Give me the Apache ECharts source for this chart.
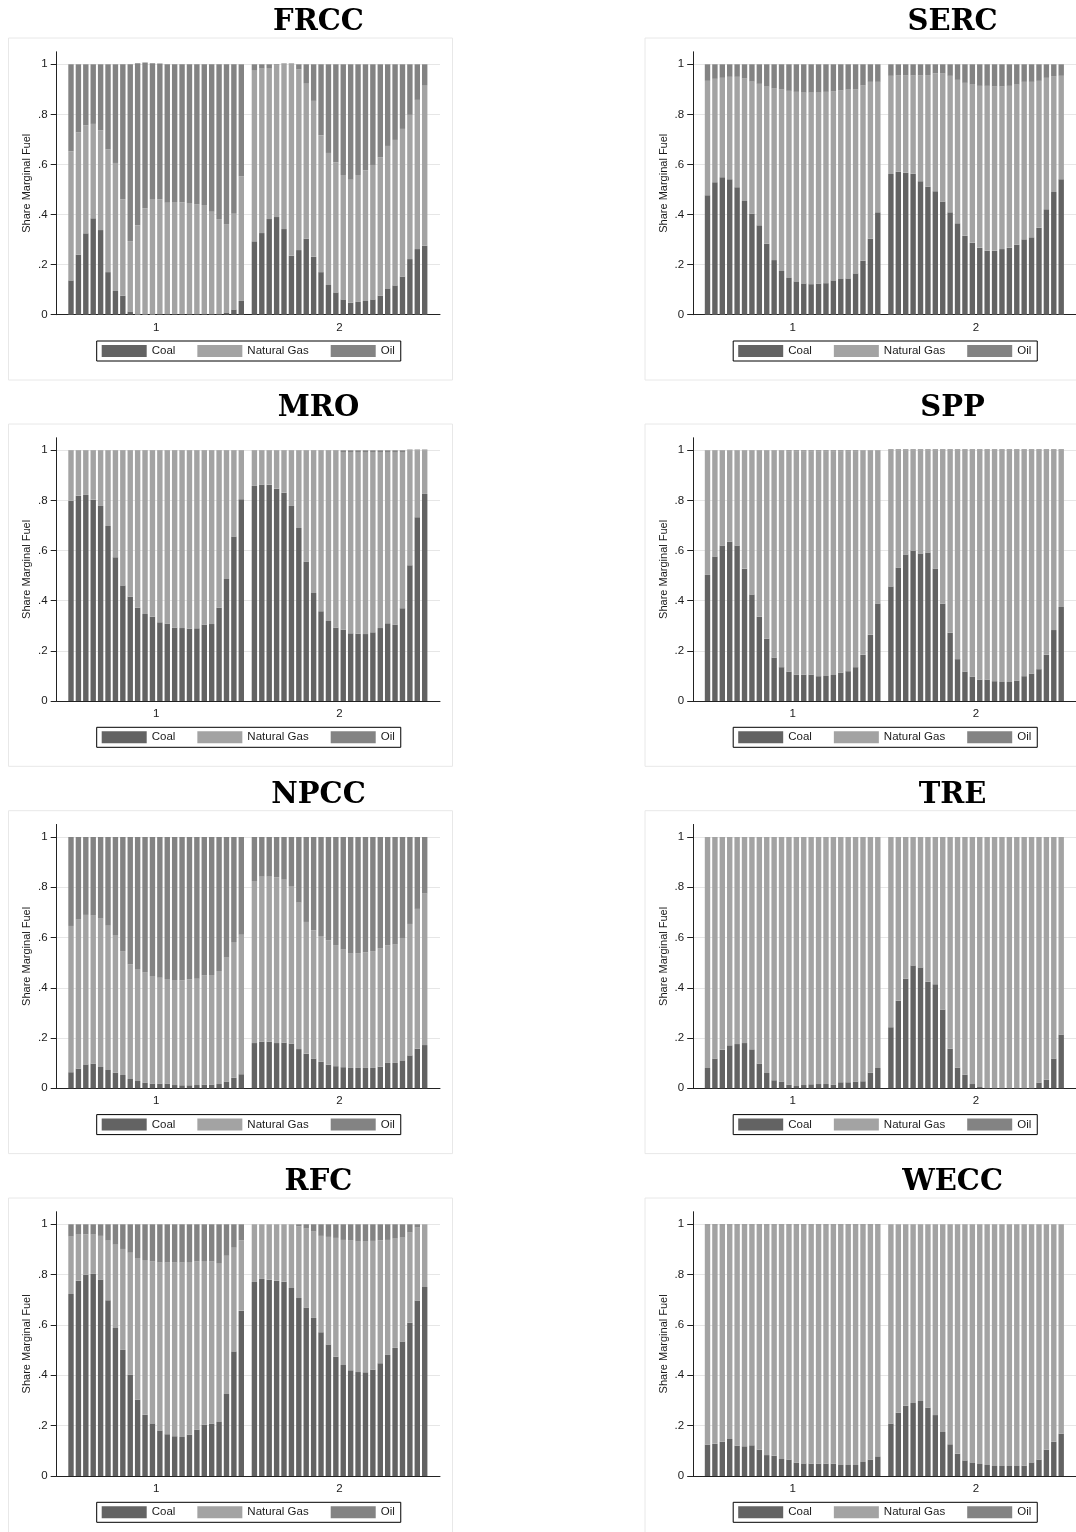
<!DOCTYPE html>
<html><head><meta charset="utf-8">
<script src="https://cdn.jsdelivr.net/npm/echarts@6/dist/echarts.min.js"></script>
<style>html,body{margin:0;padding:0;background:#fff}#c{width:1076px;height:1532px}</style>
</head><body><div id="c"></div>
<script>
const regions = ['FRCC','SERC','MRO','SPP','NPCC','TRE','RFC','WECC'];
const groupLabels = ['1','2'];
const hours = ['1','2','3','4','5','6','7','8','9','10','11','12','13','14','15','16','17','18','19','20','21','22','23','24'];
const fuels = ['Coal','Natural Gas','Oil'];
const yTicks = [0, 0.2, 0.4, 0.6, 0.8, 1];
const yTickLabels = ['0', '.2', '.4', '.6', '.8', '1'];
const yTitle = 'Share Marginal Fuel';

// FRCC
const frccCoal1 = [0.137,0.24,0.325,0.385,0.338,0.17,0.095,0.076,0.013,0,0,0,0.002,0.002,0.003,0.003,0.002,0.002,0.002,0.002,0.002,0.009,0.021,0.055];
const frccGas1  = [0.515,0.488,0.431,0.377,0.398,0.49,0.511,0.385,0.281,0.357,0.425,0.462,0.459,0.445,0.447,0.446,0.444,0.438,0.436,0.409,0.38,0.353,0.382,0.498];
const frccOil1  = [0.348,0.272,0.244,0.238,0.264,0.34,0.394,0.539,0.706,0.647,0.582,0.542,0.542,0.553,0.55,0.551,0.554,0.56,0.562,0.589,0.618,0.638,0.597,0.447];
const frccCoal2 = [0.293,0.326,0.382,0.39,0.342,0.236,0.258,0.304,0.232,0.17,0.119,0.089,0.061,0.048,0.051,0.055,0.061,0.076,0.105,0.117,0.152,0.222,0.262,0.276];
const frccGas2  = [0.684,0.657,0.603,0.605,0.662,0.768,0.722,0.621,0.622,0.546,0.527,0.52,0.497,0.491,0.507,0.522,0.537,0.552,0.569,0.581,0.59,0.576,0.596,0.641];
const frccOil2  = [0.023,0.017,0.015,0.005,0,0,0.02,0.075,0.146,0.284,0.354,0.391,0.442,0.461,0.442,0.423,0.402,0.372,0.326,0.302,0.258,0.202,0.142,0.083];
// SERC
const sercCoal1 = [0.477,0.529,0.549,0.541,0.509,0.454,0.404,0.357,0.284,0.218,0.175,0.147,0.133,0.125,0.122,0.124,0.126,0.137,0.143,0.145,0.165,0.216,0.304,0.409];
const sercGas1  = [0.457,0.413,0.397,0.409,0.441,0.489,0.527,0.565,0.627,0.686,0.725,0.747,0.757,0.762,0.765,0.763,0.764,0.755,0.753,0.754,0.735,0.7,0.626,0.521];
const sercOil1  = [0.066,0.058,0.054,0.05,0.05,0.057,0.069,0.078,0.089,0.096,0.1,0.106,0.11,0.113,0.113,0.113,0.11,0.108,0.104,0.101,0.1,0.084,0.07,0.07];
const sercCoal2 = [0.562,0.571,0.567,0.563,0.533,0.511,0.493,0.452,0.409,0.365,0.315,0.287,0.267,0.256,0.255,0.262,0.267,0.28,0.301,0.309,0.347,0.421,0.49,0.541];
const sercGas2  = [0.392,0.384,0.388,0.392,0.422,0.446,0.471,0.512,0.545,0.573,0.611,0.632,0.647,0.658,0.657,0.65,0.647,0.639,0.629,0.621,0.587,0.525,0.461,0.413];
const sercOil2  = [0.046,0.045,0.045,0.045,0.045,0.043,0.036,0.036,0.046,0.062,0.074,0.081,0.086,0.086,0.088,0.088,0.086,0.081,0.07,0.07,0.066,0.054,0.049,0.046];
// MRO
const mroCoal1 = [0.799,0.819,0.822,0.803,0.778,0.698,0.573,0.461,0.416,0.372,0.347,0.336,0.314,0.309,0.293,0.291,0.289,0.29,0.305,0.307,0.372,0.487,0.656,0.805];
const mroGas1  = [0.199,0.179,0.176,0.195,0.22,0.3,0.425,0.537,0.582,0.626,0.651,0.662,0.684,0.689,0.705,0.707,0.709,0.708,0.693,0.691,0.626,0.511,0.342,0.193];
const mroOil1  = [0.002,0.002,0.002,0.002,0.002,0.002,0.002,0.002,0.002,0.002,0.002,0.002,0.002,0.002,0.002,0.002,0.002,0.002,0.002,0.002,0.002,0.002,0.002,0.002];
const mroCoal2 = [0.858,0.864,0.863,0.847,0.831,0.778,0.69,0.555,0.431,0.358,0.319,0.293,0.285,0.27,0.269,0.267,0.274,0.291,0.31,0.305,0.37,0.541,0.733,0.826];
const mroGas2  = [0.14,0.134,0.135,0.151,0.167,0.22,0.308,0.443,0.567,0.64,0.679,0.705,0.708,0.723,0.724,0.726,0.719,0.702,0.683,0.688,0.623,0.459,0.267,0.174];
const mroOil2  = [0.002,0.002,0.002,0.002,0.002,0.002,0.002,0.002,0.002,0.002,0.002,0.002,0.007,0.007,0.007,0.007,0.007,0.007,0.007,0.007,0.007,0.003,0.003,0.003];
// SPP
const sppCoal1 = [0.503,0.576,0.62,0.635,0.62,0.528,0.425,0.336,0.249,0.173,0.135,0.117,0.105,0.105,0.105,0.099,0.1,0.104,0.113,0.119,0.135,0.184,0.264,0.389];
const sppGas1  = [0.495,0.422,0.378,0.363,0.378,0.47,0.573,0.662,0.749,0.825,0.863,0.879,0.891,0.891,0.891,0.897,0.896,0.892,0.883,0.877,0.861,0.814,0.734,0.609];
const sppOil1  = [0.002,0.002,0.002,0.002,0.002,0.002,0.002,0.002,0.002,0.002,0.002,0.004,0.004,0.004,0.004,0.004,0.004,0.004,0.004,0.004,0.004,0.002,0.002,0.002];
const sppCoal2 = [0.457,0.533,0.584,0.6,0.588,0.592,0.529,0.388,0.272,0.167,0.117,0.097,0.085,0.085,0.079,0.076,0.076,0.081,0.099,0.109,0.127,0.184,0.283,0.375];
const sppGas2  = [0.543,0.467,0.416,0.4,0.412,0.408,0.471,0.612,0.728,0.833,0.883,0.903,0.915,0.915,0.921,0.924,0.924,0.919,0.901,0.891,0.873,0.816,0.717,0.625];
const sppOil2  = [0.004,0.004,0.004,0.004,0.004,0.004,0.004,0.004,0.004,0.004,0.004,0.004,0.004,0.004,0.004,0.004,0.004,0.004,0.004,0.004,0.004,0.004,0.004,0.004];
// NPCC
const npccCoal1 = [0.064,0.078,0.095,0.098,0.085,0.073,0.062,0.053,0.037,0.029,0.023,0.019,0.019,0.019,0.013,0.012,0.012,0.013,0.015,0.015,0.017,0.027,0.042,0.056];
const npccGas1  = [0.582,0.593,0.595,0.589,0.59,0.574,0.548,0.493,0.456,0.446,0.439,0.428,0.421,0.416,0.418,0.418,0.422,0.423,0.435,0.436,0.45,0.493,0.54,0.555];
const npccOil1  = [0.354,0.329,0.31,0.313,0.325,0.353,0.39,0.454,0.507,0.525,0.538,0.553,0.56,0.565,0.569,0.57,0.566,0.564,0.55,0.549,0.533,0.48,0.418,0.389];
const npccCoal2 = [0.18,0.186,0.186,0.18,0.182,0.178,0.156,0.138,0.118,0.106,0.094,0.088,0.084,0.081,0.081,0.081,0.081,0.086,0.101,0.101,0.111,0.131,0.158,0.172];
const npccGas2  = [0.645,0.656,0.656,0.66,0.648,0.627,0.583,0.524,0.511,0.5,0.495,0.482,0.468,0.455,0.457,0.46,0.465,0.472,0.468,0.471,0.487,0.523,0.556,0.603];
const npccOil2  = [0.175,0.158,0.158,0.16,0.17,0.195,0.261,0.338,0.371,0.394,0.411,0.43,0.448,0.464,0.462,0.459,0.454,0.442,0.431,0.428,0.402,0.346,0.286,0.225];
// TRE
const treCoal1 = [0.081,0.118,0.153,0.171,0.176,0.18,0.155,0.098,0.061,0.032,0.027,0.015,0.009,0.013,0.016,0.017,0.017,0.015,0.024,0.024,0.027,0.028,0.062,0.081];
const treGas1  = [0.919,0.882,0.847,0.829,0.824,0.82,0.845,0.902,0.939,0.968,0.973,0.985,0.991,0.987,0.984,0.983,0.983,0.985,0.976,0.976,0.973,0.972,0.938,0.919];
const treOil1  = [0,0,0,0,0,0,0,0,0,0,0,0,0,0,0,0,0,0,0,0,0,0,0,0];
const treCoal2 = [0.243,0.349,0.436,0.489,0.481,0.424,0.414,0.313,0.158,0.082,0.054,0.017,0.005,0,0,0,0,0,0,0,0.023,0.034,0.118,0.214];
const treGas2  = [0.757,0.651,0.564,0.511,0.519,0.576,0.586,0.687,0.842,0.918,0.946,0.983,0.995,1,1,1,1,1,1,1,0.977,0.966,0.882,0.786];
const treOil2  = [0,0,0,0,0,0,0,0,0,0,0,0,0,0,0,0,0,0,0,0,0,0,0,0];
// RFC
const rfcCoal1 = [0.723,0.776,0.799,0.803,0.781,0.698,0.588,0.501,0.403,0.303,0.244,0.209,0.181,0.166,0.158,0.155,0.164,0.184,0.204,0.208,0.215,0.326,0.495,0.657];
const rfcGas1  = [0.228,0.183,0.161,0.156,0.173,0.237,0.331,0.401,0.484,0.563,0.614,0.644,0.667,0.682,0.69,0.693,0.686,0.669,0.65,0.645,0.631,0.549,0.412,0.279];
const rfcOil1  = [0.049,0.041,0.04,0.041,0.046,0.065,0.081,0.098,0.113,0.134,0.142,0.147,0.152,0.152,0.152,0.152,0.15,0.147,0.146,0.147,0.154,0.125,0.093,0.064];
const rfcCoal2 = [0.771,0.783,0.78,0.776,0.772,0.747,0.707,0.668,0.628,0.571,0.522,0.474,0.441,0.42,0.413,0.412,0.423,0.448,0.481,0.509,0.534,0.609,0.697,0.751];
const rfcGas2  = [0.229,0.217,0.22,0.224,0.228,0.253,0.284,0.315,0.343,0.383,0.428,0.472,0.497,0.515,0.518,0.519,0.511,0.488,0.457,0.434,0.413,0.358,0.29,0.249];
const rfcOil2  = [0,0,0,0,0,0,0.009,0.017,0.029,0.046,0.05,0.054,0.062,0.065,0.069,0.069,0.066,0.064,0.062,0.057,0.053,0.033,0.013,0];
// WECC
const weccCoal1 = [0.125,0.128,0.136,0.147,0.121,0.118,0.122,0.105,0.083,0.081,0.068,0.065,0.053,0.05,0.049,0.049,0.049,0.049,0.044,0.044,0.044,0.056,0.065,0.078];
const weccGas1  = [0.872,0.869,0.861,0.85,0.876,0.879,0.875,0.892,0.914,0.916,0.929,0.932,0.944,0.947,0.948,0.948,0.948,0.948,0.953,0.953,0.953,0.941,0.932,0.919];
const weccOil1  = [0.003,0.003,0.003,0.003,0.003,0.003,0.003,0.003,0.003,0.003,0.003,0.003,0.003,0.003,0.003,0.003,0.003,0.003,0.003,0.003,0.003,0.003,0.003,0.003];
const weccCoal2 = [0.208,0.252,0.279,0.29,0.298,0.272,0.242,0.175,0.126,0.089,0.062,0.054,0.048,0.044,0.04,0.04,0.04,0.04,0.041,0.054,0.065,0.105,0.136,0.168];
const weccGas2  = [0.792,0.748,0.721,0.71,0.702,0.728,0.758,0.825,0.874,0.911,0.938,0.946,0.952,0.956,0.96,0.96,0.96,0.96,0.959,0.946,0.935,0.895,0.864,0.832];
const weccOil2  = [0,0,0,0,0,0,0,0,0,0,0,0,0,0,0,0,0,0,0,0,0,0,0,0];

const panelData = {
  FRCC: [[frccCoal1, frccGas1, frccOil1], [frccCoal2, frccGas2, frccOil2]],
  SERC: [[sercCoal1, sercGas1, sercOil1], [sercCoal2, sercGas2, sercOil2]],
  MRO:  [[mroCoal1, mroGas1, mroOil1], [mroCoal2, mroGas2, mroOil2]],
  SPP:  [[sppCoal1, sppGas1, sppOil1], [sppCoal2, sppGas2, sppOil2]],
  NPCC: [[npccCoal1, npccGas1, npccOil1], [npccCoal2, npccGas2, npccOil2]],
  TRE:  [[treCoal1, treGas1, treOil1], [treCoal2, treGas2, treOil2]],
  RFC:  [[rfcCoal1, rfcGas1, rfcOil1], [rfcCoal2, rfcGas2, rfcOil2]],
  WECC: [[weccCoal1, weccGas1, weccOil1], [weccCoal2, weccGas2, weccOil2]]
};

const fuelColors = ['#636363', '#a3a3a3', '#838383'];
const FONT = '"Liberation Sans", Arial, sans-serif';
const TXT = '#1a1a1a';

// layout
const rowY1 = [64.3, 450.3, 837, 1224.3];
const rowY0 = [314.7, 701, 1088.3, 1476];
const colOff = [0, 636.5];
const AXIS_X = 56.7, PLOT_R = 440;
const GROUP_L = [67.3, 250.7], GROUP_W = 177.7;
const YMAX = 1.05;

const grid = [], xAxis = [], yAxis = [], series = [], legend = [], graphic = [];

regions.forEach((reg, i) => {
  const c = i % 2, r = Math.floor(i / 2);
  const off = colOff[c];
  const y1 = rowY1[r], y0 = rowY0[r];
  const gTop = y1 - (YMAX - 1) * (y0 - y1);
  const gH = y0 - gTop;

  // frame
  graphic.push({ type: 'rect', silent: true, z: -10,
    shape: { x: 8.5 + off, y: y1 - 26.3, width: 444, height: (y0 - y1) + 91.6 },
    style: { fill: '#fff', stroke: '#e8e8e8', lineWidth: 1 } });
  // title
  graphic.push({ type: 'text', silent: true,
    x: 318.5 + off * 0.9962, y: y1 - 41.5,
    style: { text: reg, font: 'bold 29px "DejaVu Serif", serif', fill: '#000',
      textAlign: 'center', textVerticalAlign: 'middle' } });

  // main grid
  const gi = grid.length;
  grid.push({ left: AXIS_X + off, top: gTop, width: PLOT_R - AXIS_X, height: gH });
  xAxis.push({ gridIndex: gi, type: 'value', min: 0, max: 1,
    axisLine: { show: true, lineStyle: { color: '#222', width: 1 } },
    axisTick: { show: false }, axisLabel: { show: false }, splitLine: { show: false } });
  yAxis.push({ gridIndex: gi, type: 'value', min: 0, max: YMAX,
    name: yTitle, nameLocation: 'middle', nameGap: 24,
    nameTextStyle: { fontSize: 11, color: TXT, fontFamily: FONT },
    axisLine: { show: true, lineStyle: { color: '#222', width: 1 } },
    axisTick: { show: true, length: 6, lineStyle: { color: '#222' }, customValues: yTicks },
    axisLabel: { show: true, margin: 9, fontSize: 11.5, color: TXT, fontFamily: FONT,
      customValues: yTicks,
      formatter: v => yTickLabels[Math.round(v * 5)] },
    splitLine: { show: true, lineStyle: { color: '#e6e6e6', width: 1 } } });

  // sub grids (one per group)
  [0, 1].forEach(g => {
    const sg = grid.length;
    grid.push({ left: GROUP_L[g] + off, top: gTop, width: GROUP_W, height: gH });
    const xi = xAxis.length;
    xAxis.push({ gridIndex: sg, type: 'category', data: hours, show: false });
    xAxis.push({ gridIndex: sg, type: 'category', data: [groupLabels[g]], position: 'bottom',
      axisLine: { show: false }, axisTick: { show: false },
      axisLabel: { margin: 7, fontSize: 11.5, color: TXT, fontFamily: FONT } });
    const yi = yAxis.length;
    yAxis.push({ gridIndex: sg, type: 'value', min: 0, max: YMAX, show: false });
    fuels.forEach((f, k) => {
      series.push({ type: 'bar', name: f, xAxisIndex: xi, yAxisIndex: yi,
        stack: reg + '_' + g, data: panelData[reg][g][k],
        barCategoryGap: '27%', itemStyle: { color: fuelColors[k] }, silent: true });
    });
  });

  legend.push({ data: fuels, left: AXIS_X + off + 40, top: y0 + 26.3,
    orient: 'horizontal', icon: 'rect', itemWidth: 45, itemHeight: 12, itemGap: 22,
    padding: [4, 6, 4, 5], borderColor: '#000', borderWidth: 1, backgroundColor: '#fff',
    selectedMode: false,
    textStyle: { fontSize: 11.5, color: TXT, fontFamily: FONT } });
});

const chart = echarts.init(document.getElementById('c'), null, { renderer: 'canvas' });
chart.setOption({ animation: false, backgroundColor: '#fff', grid, xAxis, yAxis, series, legend, graphic });
</script></body></html>
